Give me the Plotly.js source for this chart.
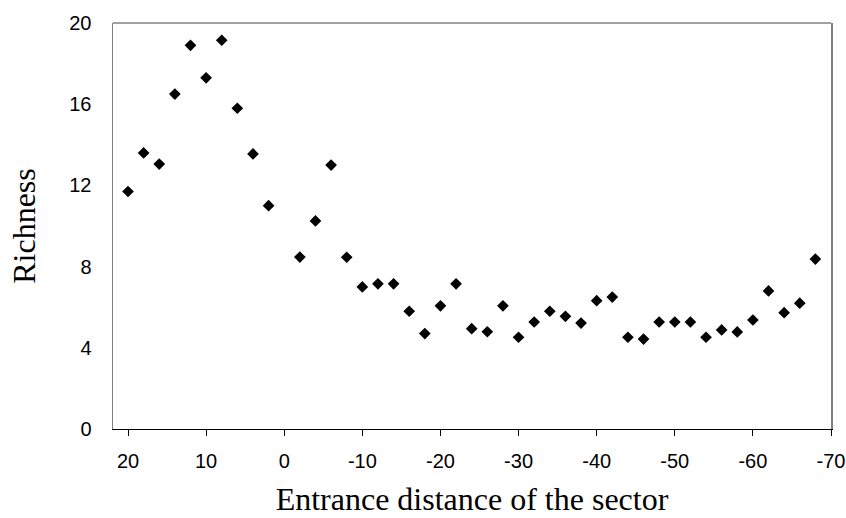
<!DOCTYPE html>
<html>
<head>
<meta charset="utf-8">
<script src="https://cdn.plot.ly/plotly-3.0.1.min.js"></script>
<style>html,body{margin:0;padding:0;background:#fff;}#chart{width:846px;height:518px;}</style>
</head>
<body>
<div id="chart"></div>
<script>
// Entrance distance of each sector (no sector at 0)
const distance = [20, 18, 16, 14, 12, 10, 8, 6, 4, 2,
  -2, -4, -6, -8, -10, -12, -14, -16, -18, -20,
  -22, -24, -26, -28, -30, -32, -34, -36, -38, -40,
  -42, -44, -46, -48, -50, -52, -54, -56, -58, -60,
  -62, -64, -66, -68];
const richness = [11.7, 13.6, 13.05, 16.5, 18.9, 17.3, 19.15, 15.8, 13.55, 11.0,
  8.47, 10.25, 13.0, 8.46, 7.0, 7.15, 7.15, 5.8, 4.7, 6.07,
  7.15, 4.94, 4.79, 6.07, 4.52, 5.27, 5.8, 5.55, 5.22, 6.32,
  6.5, 4.52, 4.43, 5.27, 5.27, 5.27, 4.52, 4.88, 4.78, 5.37,
  6.8, 5.73, 6.2, 8.37];
const xTicks = [20, 10, 0, -10, -20, -30, -40, -50, -60, -70];
const yTicks = [0, 4, 8, 12, 16, 20];

const trace = {
  x: distance, y: richness, type: 'scatter', mode: 'markers',
  marker: {symbol: 'diamond', size: 9, color: '#000'},
  hoverinfo: 'x+y'
};

const layout = {
  width: 846, height: 518,
  margin: {l: 113, r: 15, t: 23, b: 89},
  paper_bgcolor: '#fff', plot_bgcolor: '#fff',
  showlegend: false,
  xaxis: {
    range: [21.92, -70], tickvals: xTicks, ticktext: xTicks.map(String),
    showgrid: false, zeroline: false,
    showline: true, linecolor: '#000', linewidth: 1,
    ticks: 'outside', ticklen: 6, tickcolor: '#000', tickwidth: 1,
    ticklabelstandoff: 8,
    tickfont: {family: 'Liberation Sans, Arial, sans-serif', size: 20, color: '#000'},
    title: {text: 'Entrance distance of the sector', standoff: 16,
      font: {family: 'Liberation Serif, Times New Roman, serif', size: 32, color: '#000'}}
  },
  yaxis: {
    range: [0, 20], tickvals: yTicks, ticktext: yTicks.map(String),
    showgrid: false, zeroline: false,
    showline: true, mirror: true, linecolor: '#808080', linewidth: 1.5,
    ticks: '', ticklabelstandoff: 16,
    tickfont: {family: 'Liberation Sans, Arial, sans-serif', size: 20, color: '#000'},
    title: {text: 'Richness', standoff: 24,
      font: {family: 'Liberation Serif, Times New Roman, serif', size: 32, color: '#000'}}
  },
  shapes: [{type: 'line', xref: 'paper', yref: 'paper', x0: 0, x1: 1, y0: 1, y1: 1,
    line: {color: '#808080', width: 1.5}}]
};

Plotly.newPlot('chart', [trace], layout, {displayModeBar: false, staticPlot: true});
</script>
</body>
</html>
